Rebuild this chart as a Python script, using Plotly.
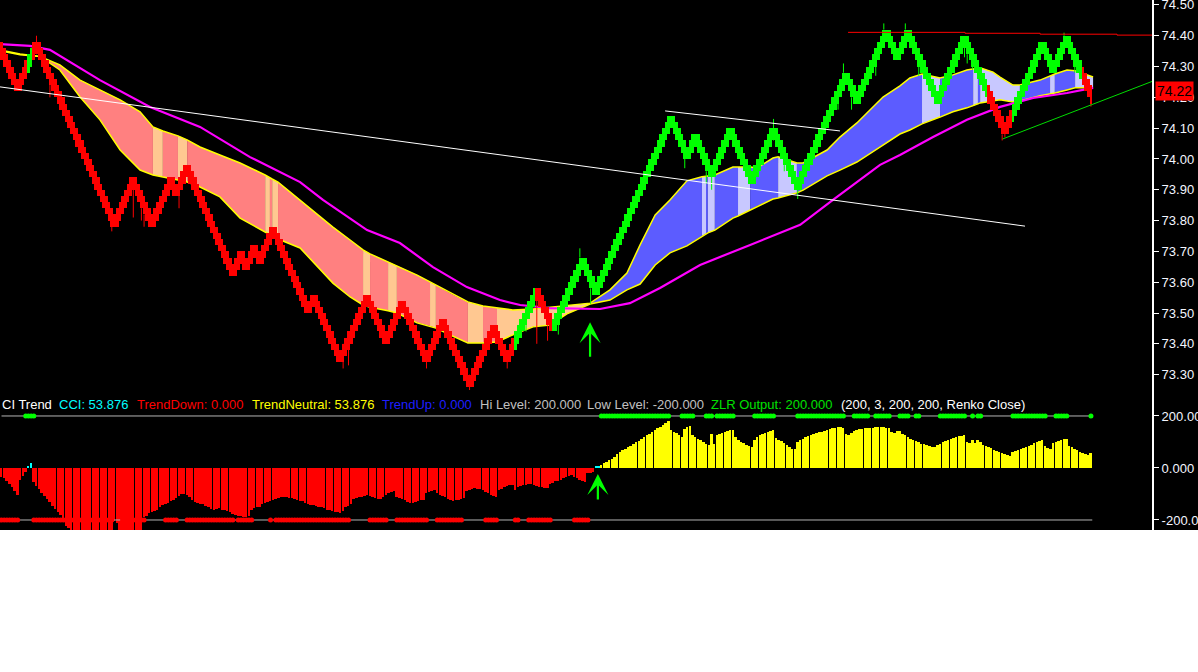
import plotly.graph_objects as go

W, H = 1198, 530
PLOT_W = 1152
XMIN, XMAX = -0.56, 427.7

# ---------------- price data (Renko, brick = 0.02) ----------------
BRICK = 0.02
BODY_BRICKS = 3
renko_swings = [74.32, 74.22, 74.38, 73.78, 73.94, 73.78, 73.94, 73.88, 73.98, 73.62,
                73.70, 73.64, 73.72, 73.66, 73.78, 73.50, 73.56, 73.34, 73.56, 73.40,
                73.54, 73.34, 73.48, 73.26, 73.46, 73.34, 73.58, 73.44, 73.68, 73.56,
                74.14, 74.00, 74.08, 73.94, 74.10, 73.92, 74.10, 73.90, 74.28, 74.18,
                74.42, 74.32, 74.42, 74.18, 74.40, 74.08, 74.38, 74.28, 74.40, 74.18]
green_bar_ranges = [(10, 11), (191, 198), (205, 366), (376, 401)]
wick_tips = [(13, 74.40), (18, 74.20), (41, 73.765), (49, 73.81), (52, 73.80), (53, 73.78),
             (66, 73.84), (127, 73.32), (129, 73.33), (158, 73.32), (174, 73.25), (188, 73.32),
             (195, 73.44), (199, 73.40), (203, 73.41), (207, 73.43), (215, 73.71), (219, 73.53),
             (254, 73.97), (262, 73.92), (264, 73.90), (287, 74.13), (291, 73.96), (296, 73.87),
             (311, 74.16), (313, 74.31), (316, 74.16), (325, 74.27), (328, 74.44), (336, 74.44),
             (341, 74.27), (358, 74.33), (359, 74.31), (361, 74.29), (364, 74.25), (372, 74.06),
             (373, 74.07), (395, 74.41), (399, 74.28), (405, 74.17)]

# ---------------- moving-average ribbon ----------------
band_x = [-0.5, 6.9, 14.3, 21.7, 29.2, 36.6, 44.1, 51.5, 56.3, 60.0, 65.6, 69.0, 73.8, 81.2,
          88.7, 98.0, 99.8, 100.6, 102.8, 111.0, 123.2, 129.6, 134.4, 137.0, 143.7, 147.0,
          154.5, 159.3, 161.5, 166.7, 173.4, 179.0, 184.2, 190.1, 197.6, 203.9, 210.2, 218.8,
          226.2, 232.5, 237.4, 243.0, 248.5, 254.8, 260.4, 261.9, 262.6, 265.2, 271.9, 273.8,
          278.3, 280.9, 286.8, 288.7, 295.7, 298.0, 306.9, 311.7, 318.0, 327.7, 334.0, 337.7,
          342.2, 348.9, 353.7, 358.9, 361.2, 363.0, 363.8, 368.6, 371.2, 376.0, 378.6, 386.1,
          389.8, 391.6, 396.1, 399.1, 405.8]
band_top = [74.354, 74.341, 74.333, 74.305, 74.256, 74.224, 74.192, 74.153, 74.104, 74.091,
            74.075, 74.062, 74.039, 74.013, 73.987, 73.948, 73.938, 73.935, 73.925, 73.867,
            73.779, 73.737, 73.705, 73.692, 73.666, 73.653, 73.623, 73.601, 73.591, 73.565,
            73.536, 73.523, 73.516, 73.510, 73.513, 73.519, 73.523, 73.532, 73.575, 73.630,
            73.721, 73.818, 73.867, 73.929, 73.942, 73.945, 73.945, 73.948, 73.974, 73.974,
            73.974, 73.971, 74.003, 74.007, 73.987, 73.987, 74.029, 74.071, 74.117, 74.201,
            74.237, 74.263, 74.276, 74.263, 74.273, 74.289, 74.292, 74.296, 74.296, 74.282,
            74.266, 74.240, 74.240, 74.256, 74.269, 74.276, 74.289, 74.286, 74.266]
band_bottom = [74.351, 74.338, 74.333, 74.289, 74.201, 74.127, 74.029, 73.964, 73.948, 73.942,
               73.932, 73.925, 73.909, 73.877, 73.808, 73.763, 73.753, 73.750, 73.740, 73.711,
               73.597, 73.552, 73.526, 73.519, 73.507, 73.500, 73.468, 73.458, 73.451, 73.429,
               73.403, 73.403, 73.406, 73.429, 73.455, 73.461, 73.497, 73.529, 73.542, 73.575,
               73.594, 73.656, 73.695, 73.718, 73.750, 73.757, 73.760, 73.769, 73.808, 73.815,
               73.834, 73.847, 73.870, 73.873, 73.890, 73.899, 73.945, 73.964, 73.990, 74.045,
               74.081, 74.094, 74.114, 74.136, 74.153, 74.166, 74.172, 74.179, 74.182, 74.188,
               74.192, 74.185, 74.188, 74.205, 74.211, 74.214, 74.224, 74.231, 74.231]
band_shade = list("PPPPPPPP" "OPOPPPPOPOPPPPOPOPPOPPOP" "OOOOO" "BBBBBBB" "LBLBBLBBBL"
                  "BBBBBBBB" "L" "BBB" "L" "B" "LLLL" "BB" "L" "BB" "L")
shade_colors = {"P": "#FF8080", "O": "#FFC891", "B": "#5C5CFF", "L": "#C8C8FF"}

ma_x = [-0.5, 10.6, 18.0, 36.6, 55.2, 73.8, 92.4, 111.0, 119.5, 135.9, 148.1, 160.4, 173.0,
        185.3, 192.8, 203.9, 222.5, 233.6, 244.8, 259.7, 278.3, 296.9, 309.1, 326.6, 334.0,
        346.3, 358.9, 371.2, 383.5, 396.1, 405.8]
ma_y = [74.373, 74.367, 74.354, 74.256, 74.169, 74.104, 74.006, 73.925, 73.867, 73.769,
        73.727, 73.649, 73.584, 73.542, 73.526, 73.516, 73.513, 73.532, 73.581, 73.656,
        73.721, 73.786, 73.867, 73.981, 74.013, 74.071, 74.127, 74.169, 74.198, 74.214, 74.231]

# ---------------- drawn lines ----------------
white_long = ([-0.56, 380.5], [74.234, 73.782])
white_short = ([246.7, 311.7], [74.156, 74.091])
red_resist = ([314.7, 358.2, 386.1, 414.7, 427.7], [74.411, 74.408, 74.405, 74.402, 74.402])
green_support = ([372.2, 428.1], [74.065, 74.253])
last_price = 74.22

# ---------------- CCI trend indicator ----------------
cci_hist = [
    -33, -40, -50, -62, -75, -90, -103, -45, -30, -14, 4, 18, -54,
    -68, -82, -96, -108, -120, -132, -145, -158, -170,
    -180, -200, -222, -230, -240,
    -260, -270, -275, -280, -285, -290, -290, -285, -280, -290, -300, -295, -280, -270, -260,
    -205, -210,
    -245, -260, -270, -280, -275, -265, -255, -250, -245,
    -190, -185, -175, -170, -165, -160,
    -150, -143, -140, -135, -128, -122, -115,
    -108, -100, -102, -105, -112,
    -125, -130, -135, -138, -140,
    -148, -152, -156, -160,
    -158, -155, -160, -163, -166, -170,
    -176, -180, -184, -186,
    -188, -190, -186,
    -160, -155, -152, -150,
    -140, -135, -130, -126,
    -122, -118, -115, -112, -110, -112, -114,
    -116, -120, -124, -127, -128,
    -135, -138, -141, -144, -147, -150, -152, -153,
    -160, -163, -166, -168, -170, -172, -165,
    -150, -145, -140,
    -118, -115, -112, -110, -108,
    -103, -106, -110, -115, -118, -120,
    -113, -105, -98, -92, -90,
    -110, -115, -120, -125, -130,
    -135, -133, -130, -128, -125, -122,
    -97, -92, -88, -85,
    -97, -103, -108, -113, -118, -122,
    -128, -125, -122, -120, -115,
    -90, -86, -82, -78, -80, -82,
    -85, -92, -98, -104, -108, -110,
    -85, -80, -75, -70, -66, -65,
    -85,
    -72, -68, -66, -64, -62, -60,
    -65, -68, -72, -75, -78, -76,
    -60, -56, -52, -50, -47,
    -40, -36, -32, -28,
    -34, -40, -46, -50, -53,
    -21, -18, -15,
    5, 8,
    12, 18, 23, 29, 36, 44, 52, 60, 68, 74, 80, 86, 92, 98, 105, 112, 118, 125, 132, 138,
    145, 152, 158, 165, 172, 180,
    145, 140, 135, 128, 120, 150, 158, 160,
    125, 118, 112, 106, 100, 94, 88, 129,
    94, 126, 130, 134, 138, 143, 147, 145,
    120, 108, 100, 95, 90, 85, 81,
    109, 119, 126, 132, 136, 140, 143, 145,
    115, 108, 102, 96, 88, 80, 74, 71,
    100, 108, 113, 118, 123, 127, 131, 134, 137, 140, 143, 146, 149, 152, 154, 156, 158, 155,
    132, 126, 136, 142, 146, 149, 151, 153, 155,
    152, 155, 158, 158, 157, 156, 155, 154,
    138, 134, 142, 141, 130, 128,
    119, 113, 106, 102, 98, 94, 91, 88, 85, 82, 80,
    90, 94, 100, 104, 108, 111, 114, 118, 121, 124, 126,
    100, 95, 106, 96, 108, 100,
    90, 85, 80, 75, 70, 66, 62, 58, 54, 50, 45,
    62, 66, 70, 74, 78, 82, 86, 90, 95, 100, 104, 108,
    85, 78, 72, 96, 100, 104, 108, 110, 112,
    85, 80, 74, 68, 62, 58, 54, 50, 58,
]
cci_cyan_bars = [10, 11, 221, 222]
cci_neutral_start = 223
zlr_up_ranges = [(9, 12), (223, 248), (253, 257), (262, 264), (266, 272), (280, 287),
                 (296, 313), (317, 322), (325, 330), (334, 337), (340, 341), (349, 358),
                 (361, 361), (363, 364), (376, 388), (392, 396), (405, 405)]
zlr_down_ranges = [(0, 6), (12, 41), (45, 53), (61, 65), (69, 86), (88, 93), (100, 100),
                   (102, 109), (110, 127), (128, 129), (137, 143), (147, 155), (156, 158),
                   (162, 171), (180, 184), (191, 192), (196, 204), (213, 218)]
hi_level, lo_level = 200, -200

header_parts = [("CI Trend", "#FFFFFF", 0), ("CCI: 53.876", "#00FFFF", 57),
                ("TrendDown: 0.000", "#FF0000", 135), ("TrendNeutral: 53.876", "#FFFF00", 250),
                ("TrendUp: 0.000", "#1E1EFF", 380), ("Hi Level: 200.000", "#C0C0C0", 478),
                ("Low Level: -200.000", "#C0C0C0", 585), ("ZLR Output: 200.000", "#00E000", 709),
                ("(200, 3, 200, 200, Renko Close)", "#FFFFFF", 839)]

# ---------------- build renko bars ----------------
closes = [renko_swings[0]]
dirs = [-1]
for k in range(1, len(renko_swings)):
    d = 1 if renko_swings[k] > closes[-1] else -1
    n = int(round(abs(renko_swings[k] - closes[-1]) / BRICK))
    moves = [1] * n if k == 1 else [2] + [1] * (n - 2)
    for m in moves:
        closes.append(round(closes[-1] + d * m * BRICK, 4))
        dirs.append(d)
N = len(closes)
is_green = [False] * N
for a, b in green_bar_ranges:
    for i in range(a, min(b, N - 1) + 1):
        is_green[i] = True
RED, GREEN = "#FF0000", "#00FF00"
body_lo, body_hi = [], []
for i, (c, d) in enumerate(zip(closes, dirs)):
    o = c - d * BODY_BRICKS * BRICK
    if i > 0 and dirs[i - 1] != d:          # reversal brick: open no further than prior close
        o = closes[i - 1]
    body_lo.append(min(o, c))
    body_hi.append(max(o, c))
body_col = [GREEN if g else RED for g in is_green]

fig = go.Figure()

# ribbon
k = 0
while k < len(band_shade):
    j = k
    while j + 1 < len(band_shade) and band_shade[j + 1] == band_shade[k]:
        j += 1
    xs = band_x[k:j + 2]
    fig.add_trace(go.Scatter(x=xs + xs[::-1], y=band_top[k:j + 2] + band_bottom[k:j + 2][::-1],
                             fill="toself", fillcolor=shade_colors[band_shade[k]], mode="lines",
                             line=dict(width=0), hoverinfo="skip", xaxis="x", yaxis="y"))
    k = j + 1
for edge in (band_top, band_bottom):
    fig.add_trace(go.Scatter(x=band_x, y=edge, mode="lines", line=dict(color="#FFFF00", width=1.5),
                             hoverinfo="skip", xaxis="x", yaxis="y"))
fig.add_trace(go.Scatter(x=ma_x, y=ma_y, mode="lines", line=dict(color="#FF00FF", width=2.2),
                         hoverinfo="skip", xaxis="x", yaxis="y"))

# renko bodies (overlay axis so they sit above ribbon)
fig.add_trace(go.Bar(x=list(range(N)), y=[h - l for h, l in zip(body_hi, body_lo)], base=body_lo,
                     width=1.0, marker=dict(color=body_col, line=dict(width=0)), hoverinfo="skip",
                     xaxis="x", yaxis="y3"))
for colr, flag in ((RED, False), (GREEN, True)):
    wx, wy = [], []
    for i, tip in wick_tips:
        if i < N and is_green[i] == flag:
            wx += [i, i, None]
            wy += [tip, closes[i], None]
    fig.add_trace(go.Scatter(x=wx, y=wy, mode="lines", line=dict(color=colr, width=1),
                             hoverinfo="skip", xaxis="x", yaxis="y3"))

for (lx, ly), colr, shp in ((white_long, "#FFFFFF", "linear"), (white_short, "#FFFFFF", "linear"),
                            (red_resist, "#FF0000", "hv"), (green_support, "#00DD00", "linear")):
    fig.add_trace(go.Scatter(x=lx, y=ly, mode="lines", line=dict(color=colr, width=1, shape=shp),
                             hoverinfo="skip", xaxis="x", yaxis="y3"))

# indicator
hist_col = []
for i, v in enumerate(cci_hist):
    if i in cci_cyan_bars:
        hist_col.append("#00FFFF")
    elif i >= cci_neutral_start:
        hist_col.append("#FFFF00")
    else:
        hist_col.append("#FF0000")
fig.add_trace(go.Bar(x=list(range(len(cci_hist))), y=cci_hist, width=0.72,
                     marker=dict(color=hist_col, line=dict(width=0)), hoverinfo="skip",
                     xaxis="x2", yaxis="y2"))
for lvl in (hi_level, lo_level):
    fig.add_trace(go.Scatter(x=[0, N - 0.5], y=[lvl, lvl], mode="lines",
                             line=dict(color="#B4B4B4", width=1), hoverinfo="skip",
                             xaxis="x2", yaxis="y2"))
for ranges, lvl, colr in ((zlr_up_ranges, hi_level, "#00FF00"), (zlr_down_ranges, lo_level, "#FF0000")):
    dx = [i for a, b in ranges for i in range(a, b + 1)]
    fig.add_trace(go.Scatter(x=dx, y=[lvl] * len(dx), mode="markers",
                             marker=dict(color=colr, size=5, line=dict(width=0)),
                             hoverinfo="skip", xaxis="x2", yaxis="y2"))

font_fam = "Liberation Sans, Arial, sans-serif"
axis_common = dict(side="right", showline=True, linecolor="#FFFFFF", linewidth=2, ticks="outside",
                   ticklen=5, tickcolor="#FFFFFF", showgrid=False, zeroline=False, automargin=False,
                   ticklabeloverflow="allow",
                   tickfont=dict(color="#F4F6FF", size=13, family=font_fam), fixedrange=True)
annotations = []
for txt, colr, px in header_parts:
    annotations.append(dict(text=txt, x=px / PLOT_W, y=(H - 405) / H, xref="paper", yref="paper",
                            xanchor="left", yanchor="middle", showarrow=False,
                            font=dict(color=colr, size=13, family=font_fam)))
annotations.append(dict(text="74.22", x=1, xref="paper", xshift=3, y=last_price, yref="y",
                        xanchor="left", yanchor="middle", showarrow=False, bgcolor="#FF0000",
                        borderpad=1, font=dict(color="#000000", size=14, family=font_fam)))
annotations.append(dict(x=218.8, y=73.47, xref="x", yref="y", ax=0, ay=36, text="",
                        showarrow=True, arrowhead=3, arrowsize=1.6, arrowwidth=2.2,
                        arrowcolor="#00FF00"))
annotations.append(dict(x=221.7, y=-23, xref="x2", yref="y2", ax=0, ay=27, text="",
                        showarrow=True, arrowhead=3, arrowsize=1.6, arrowwidth=2.2,
                        arrowcolor="#00FF00"))

fig.update_layout(
    width=W, height=H, margin=dict(l=0, r=W - PLOT_W, t=0, b=0, autoexpand=False),
    paper_bgcolor="#000000", plot_bgcolor="#000000", showlegend=False,
    barmode="overlay", bargap=0,
    xaxis=dict(domain=[0, 1], range=[XMIN, XMAX], visible=False, fixedrange=True, anchor="y",
               automargin=False),
    yaxis=dict(domain=[0.249, 1], range=[73.224, 74.516], dtick=0.1, tick0=73.3,
               tickformat=".2f", anchor="x", **axis_common),
    yaxis3=dict(overlaying="y", range=[73.224, 74.516], visible=False, anchor="x", fixedrange=True,
                automargin=False),
    xaxis2=dict(domain=[0, 1], range=[XMIN, XMAX], visible=False, fixedrange=True, anchor="y2",
                automargin=False),
    yaxis2=dict(domain=[0, 0.249], range=[-238.5, 269], tickvals=[-200, 0, 200],
                ticktext=["-200.000", "0.000", "200.000"], anchor="x2", **axis_common),
    annotations=annotations,
)

fig.write_html("out.html", config={"displayModeBar": False},
               post_script="document.body.style.margin='0';document.body.style.background='#FFFFFF';")
